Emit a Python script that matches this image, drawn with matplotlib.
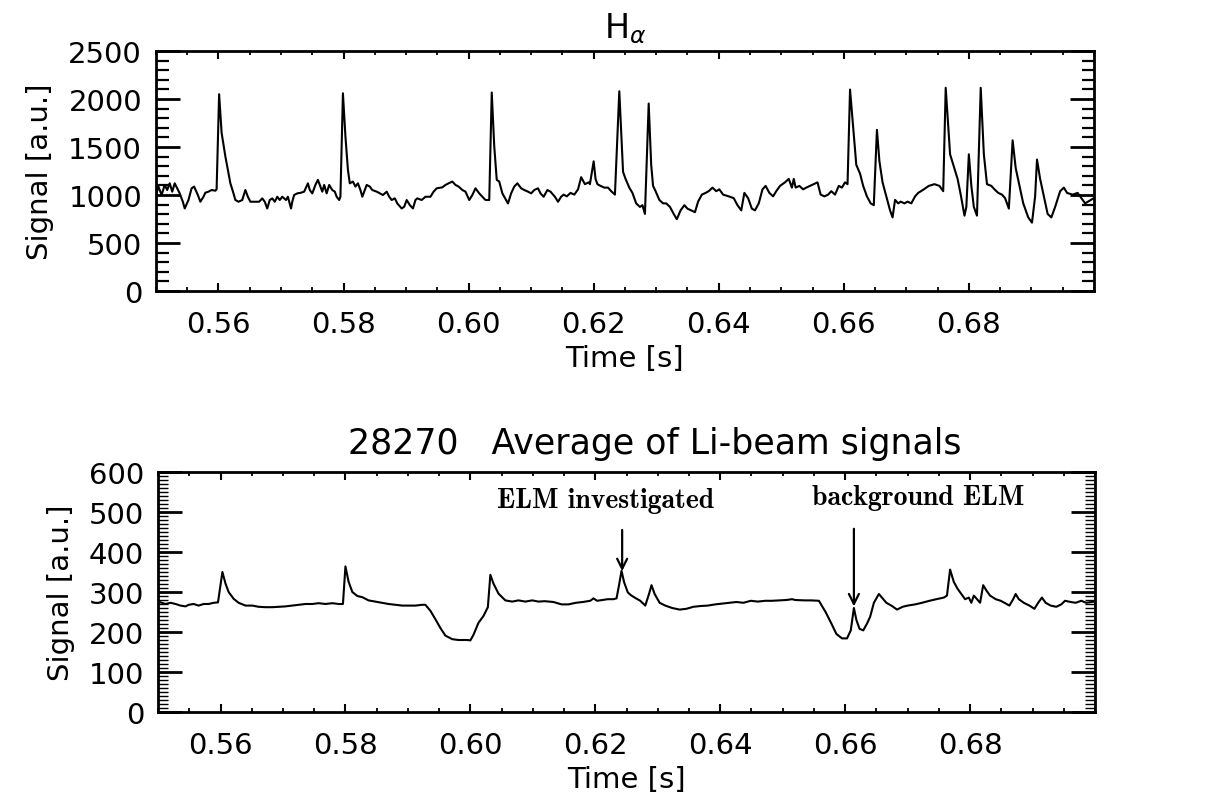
import numpy as np
import matplotlib
matplotlib.use('Agg')
import matplotlib.pyplot as plt
from matplotlib.ticker import MultipleLocator

# H-alpha signal (time [s], signal [a.u.])
ha_t = [0.5501, 0.5504, 0.5509, 0.5514, 0.5518, 0.5522, 0.5526, 0.5530, 0.5534, 0.5538,
        0.5543, 0.5546, 0.5552, 0.5557, 0.5561, 0.5567, 0.5571, 0.5576, 0.5579, 0.5584,
        0.5589, 0.5595, 0.5597, 0.5601, 0.5605, 0.5611, 0.5615, 0.5619, 0.5624, 0.5627,
        0.5632, 0.5638, 0.5643, 0.5647, 0.5651, 0.5656, 0.5665, 0.5670, 0.5674, 0.5678,
        0.5682, 0.5686, 0.5690, 0.5694, 0.5698, 0.5702, 0.5708, 0.5711, 0.5716, 0.5718,
        0.5721, 0.5726, 0.5732, 0.5737, 0.5743, 0.5746, 0.5750, 0.5755, 0.5759, 0.5761,
        0.5766, 0.5769, 0.5773, 0.5777, 0.5782, 0.5786, 0.5789, 0.5793, 0.5795, 0.5799,
        0.5803, 0.5807, 0.5810, 0.5815, 0.5819, 0.5823, 0.5827, 0.5830, 0.5834, 0.5837,
        0.5842, 0.5846, 0.5853, 0.5858, 0.5863, 0.5869, 0.5873, 0.5877, 0.5882, 0.5886,
        0.5893, 0.5897, 0.5901, 0.5906, 0.5911, 0.5915, 0.5918, 0.5925, 0.5931, 0.5939,
        0.5944, 0.5949, 0.5958, 0.5963, 0.5968, 0.5974, 0.5979, 0.5984, 0.5990, 0.5995,
        0.6001, 0.6006, 0.6011, 0.6017, 0.6022, 0.6027, 0.6033, 0.6037, 0.6041, 0.6045,
        0.6049, 0.6054, 0.6060, 0.6063, 0.6068, 0.6073, 0.6078, 0.6084, 0.6089, 0.6095,
        0.6100, 0.6105, 0.6111, 0.6115, 0.6120, 0.6126, 0.6131, 0.6138, 0.6143, 0.6148,
        0.6152, 0.6157, 0.6163, 0.6169, 0.6175, 0.6180, 0.6186, 0.6192, 0.6194, 0.6200,
        0.6203, 0.6206, 0.6211, 0.6217, 0.6223, 0.6228, 0.6234, 0.6241, 0.6247, 0.6251,
        0.6257, 0.6262, 0.6268, 0.6274, 0.6278, 0.6282, 0.6288, 0.6292, 0.6295, 0.6299,
        0.6305, 0.6311, 0.6316, 0.6322, 0.6328, 0.6333, 0.6339, 0.6345, 0.6350, 0.6356,
        0.6362, 0.6367, 0.6373, 0.6379, 0.6384, 0.6390, 0.6396, 0.6401, 0.6407, 0.6416,
        0.6424, 0.6430, 0.6436, 0.6441, 0.6447, 0.6453, 0.6458, 0.6464, 0.6470, 0.6475,
        0.6481, 0.6487, 0.6492, 0.6498, 0.6506, 0.6512, 0.6517, 0.6520, 0.6523, 0.6529,
        0.6535, 0.6540, 0.6546, 0.6552, 0.6558, 0.6563, 0.6569, 0.6575, 0.6580, 0.6586,
        0.6592, 0.6597, 0.6602, 0.6606, 0.6610, 0.6614, 0.6620, 0.6626, 0.6631, 0.6637,
        0.6643, 0.6648, 0.6653, 0.6657, 0.6662, 0.6668, 0.6674, 0.6678, 0.6682, 0.6687,
        0.6691, 0.6697, 0.6702, 0.6708, 0.6714, 0.6719, 0.6728, 0.6736, 0.6745, 0.6753,
        0.6759, 0.6763, 0.6770, 0.6776, 0.6782, 0.6787, 0.6793, 0.6796, 0.6800, 0.6804,
        0.6808, 0.6813, 0.6819, 0.6824, 0.6829, 0.6836, 0.6841, 0.6847, 0.6853, 0.6858,
        0.6864, 0.6870, 0.6875, 0.6881, 0.6887, 0.6895, 0.6901, 0.6906, 0.6909, 0.6914,
        0.6920, 0.6926, 0.6932, 0.6938, 0.6946, 0.6952, 0.6957, 0.6966, 0.6974, 0.6980,
        0.6986, 0.6998]
ha_v = [1017, 1088, 1000, 1105, 1052, 1122, 1035, 1122, 1070, 1017,
        930, 860, 948, 1070, 1088, 1000, 930, 982, 1024, 1035,
        1052, 1045, 1060, 2050, 1648, 1402, 1262, 1122, 1017, 948,
        930, 948, 1052, 982, 930, 930, 930, 965, 930, 860,
        948, 965, 930, 982, 948, 982, 948, 982, 860, 930,
        1000, 1017, 1024, 1035, 1122, 1052, 1017, 1105, 1158, 1122,
        1035, 1105, 1017, 1105, 1052, 1035, 982, 948, 982, 2060,
        1612, 1262, 1122, 1140, 1088, 1122, 1052, 982, 1052, 1105,
        1088, 1052, 1035, 1017, 1000, 1035, 982, 948, 965, 912,
        860, 878, 948, 895, 860, 948, 965, 948, 982, 982,
        1035, 1070, 1080, 1105, 1122, 1140, 1105, 1088, 1052, 1035,
        948, 1000, 1070, 1017, 982, 948, 948, 2068, 1508, 1158,
        1140, 1017, 948, 912, 1017, 1088, 1122, 1070, 1052, 1035,
        1017, 1052, 1070, 1017, 982, 1052, 1035, 982, 930, 982,
        1004, 986, 1022, 1004, 1059, 1186, 1113, 1132, 1113, 1351,
        1168, 1113, 1095, 1077, 1077, 1040, 1004, 2081, 1241, 1168,
        1077, 1022, 913, 876, 894, 803, 1953, 1314, 1095, 1040,
        949, 913, 913, 876, 803, 748, 840, 894, 858, 840,
        821, 931, 1004, 1022, 1040, 1077, 1040, 1059, 1004, 986,
        967, 894, 840, 1022, 967, 858, 840, 913, 1059, 1095,
        1022, 986, 1040, 1095, 1132, 1168, 1077, 1168, 1077, 1095,
        1059, 1077, 1095, 1113, 1132, 1004, 986, 1004, 1040, 1004,
        1095, 1077, 1132, 1113, 2099, 1789, 1314, 1223, 1095, 986,
        913, 894, 1679, 1351, 1132, 986, 840, 767, 949, 913,
        931, 913, 931, 913, 986, 1022, 1059, 1095, 1113, 1095,
        1040, 2117, 1424, 1296, 1168, 1004, 785, 876, 1424, 1095,
        876, 785, 2117, 1424, 1113, 1095, 1059, 1022, 1004, 967,
        858, 1570, 1278, 1095, 913, 767, 712, 986, 1369, 1168,
        986, 803, 767, 876, 1040, 1077, 1022, 1004, 1022, 967,
        913, 960]

# Average of Li-beam signals, shot 28270 (lower panel)
li_t = [0.5504, 0.5512, 0.5520, 0.5528, 0.5536, 0.5544, 0.5549, 0.5557, 0.5565, 0.5573,
        0.5581, 0.5589, 0.5596, 0.5603, 0.5608, 0.5613, 0.5621, 0.5629, 0.5640, 0.5651,
        0.5661, 0.5672, 0.5683, 0.5693, 0.5704, 0.5715, 0.5725, 0.5736, 0.5747, 0.5757,
        0.5768, 0.5779, 0.5789, 0.5796, 0.5800, 0.5805, 0.5811, 0.5819, 0.5827, 0.5837,
        0.5848, 0.5859, 0.5869, 0.5880, 0.5891, 0.5901, 0.5912, 0.5923, 0.5928, 0.5936,
        0.5944, 0.5952, 0.5960, 0.5971, 0.5981, 0.5995, 0.6000, 0.6005, 0.6013, 0.6021,
        0.6028, 0.6032, 0.6037, 0.6045, 0.6056, 0.6067, 0.6077, 0.6088, 0.6099, 0.6109,
        0.6119, 0.6133, 0.6146, 0.6157, 0.6169, 0.6180, 0.6192, 0.6197, 0.6203, 0.6212,
        0.6220, 0.6229, 0.6234, 0.6238, 0.6242, 0.6246, 0.6252, 0.6257, 0.6263, 0.6272,
        0.6280, 0.6286, 0.6290, 0.6295, 0.6303, 0.6312, 0.6323, 0.6335, 0.6346, 0.6357,
        0.6369, 0.6380, 0.6392, 0.6403, 0.6415, 0.6426, 0.6437, 0.6449, 0.6460, 0.6472,
        0.6483, 0.6495, 0.6506, 0.6515, 0.6520, 0.6535, 0.6546, 0.6558, 0.6563, 0.6569,
        0.6578, 0.6586, 0.6595, 0.6603, 0.6609, 0.6614, 0.6618, 0.6623, 0.6629, 0.6635,
        0.6640, 0.6646, 0.6654, 0.6659, 0.6666, 0.6675, 0.6683, 0.6692, 0.6700, 0.6712,
        0.6723, 0.6735, 0.6746, 0.6758, 0.6763, 0.6768, 0.6774, 0.6780, 0.6786, 0.6792,
        0.6798, 0.6802, 0.6806, 0.6810, 0.6816, 0.6821, 0.6826, 0.6832, 0.6841, 0.6849,
        0.6855, 0.6863, 0.6869, 0.6873, 0.6878, 0.6886, 0.6895, 0.6903, 0.6909, 0.6915,
        0.6921, 0.6929, 0.6938, 0.6946, 0.6952, 0.6961, 0.6969, 0.6978, 0.6986, 0.6999]
li_v = [274, 270, 273, 270, 266, 264, 268, 270, 266, 270,
        270, 273, 274, 350, 321, 300, 283, 273, 266, 266,
        263, 262, 262, 263, 264, 266, 268, 270, 270, 272,
        270, 272, 270, 270, 364, 326, 300, 290, 287, 279,
        276, 273, 270, 268, 266, 266, 266, 268, 268, 253,
        232, 210, 191, 182, 180, 180, 179, 193, 223, 240,
        262, 343, 321, 296, 279, 276, 279, 276, 279, 276,
        277, 275, 269, 269, 273, 275, 278, 284, 278, 280,
        282, 282, 284, 317, 353, 325, 299, 292, 286, 278,
        266, 295, 317, 295, 273, 266, 260, 256, 258, 263,
        265, 266, 269, 271, 273, 275, 273, 278, 276, 278,
        278, 279, 280, 282, 280, 279, 279, 278, 265, 249,
        221, 195, 184, 184, 204, 260, 230, 208, 204, 221,
        238, 273, 295, 286, 273, 265, 256, 263, 266, 269,
        273, 278, 282, 286, 291, 356, 325, 308, 295, 282,
        286, 273, 291, 284, 273, 317, 304, 291, 282, 278,
        273, 266, 282, 295, 282, 273, 266, 258, 273, 286,
        273, 266, 263, 269, 278, 275, 273, 278, 273, 276]

x_ticks = [0.56, 0.58, 0.60, 0.62, 0.64, 0.66, 0.68]
ha_yticks = [0, 500, 1000, 1500, 2000, 2500]
li_yticks = [0, 100, 200, 300, 400, 500, 600]

plt.rcParams['font.family'] = ['DejaVu Sans']

fig = plt.figure(figsize=(12.28, 8.04), dpi=100)
ax1 = fig.add_axes([0.1270, 0.6368, 0.7638, 0.2985])
ax2 = fig.add_axes([0.1287, 0.1132, 0.7630, 0.2985])


def style_axes(ax, yminor, ylen_minor):
    ax.set_xlim(0.55, 0.70)
    ax.set_xticks(x_ticks)
    ax.set_xticklabels(['%.2f' % t for t in x_ticks])
    ax.xaxis.set_minor_locator(MultipleLocator(0.005))
    ax.yaxis.set_minor_locator(MultipleLocator(yminor))
    for s in ax.spines.values():
        s.set_linewidth(2.0)
    ax.tick_params(axis='x', which='major', direction='in', length=6, width=1.5,
                   top=True, bottom=True, labelsize=21, pad=14)
    ax.tick_params(axis='x', which='minor', direction='in', length=3, width=1.3,
                   top=True, bottom=True)
    ax.tick_params(axis='y', which='major', direction='in', length=17, width=2.0,
                   left=True, right=True, labelsize=21, pad=10)
    ax.tick_params(axis='y', which='minor', direction='in', length=ylen_minor, width=1.6,
                   left=True, right=True)


ax1.plot(ha_t, ha_v, color='black', lw=1.5)
ax1.set_ylim(0, 2500)
ax1.set_yticks(ha_yticks)
style_axes(ax1, 100, 9)
ax1.set_title(r'H$_\alpha$', fontsize=24, pad=10)
ax1.set_xlabel('Time [s]', fontsize=21, labelpad=4)
ax1.set_ylabel('Signal [a.u.]', fontsize=21, labelpad=10)

ax2.plot(li_t, li_v, color='black', lw=1.5)
ax2.set_ylim(0, 600)
ax2.set_yticks(li_yticks)
style_axes(ax2, 10, 7)
ax2.tick_params(axis='y', which='minor', width=1.0)
ax2.set_title('28270   Average of Li-beam signals', fontsize=25, pad=14, x=0.53)
ax2.set_xlabel('Time [s]', fontsize=21, labelpad=4)
ax2.set_ylabel('Signal [a.u.]', fontsize=21, labelpad=10)

ax2.annotate('', xy=(0.6243, 345), xytext=(0.6243, 462),
             arrowprops=dict(arrowstyle='->', lw=1.6, color='black', mutation_scale=18))
ax2.text(0.6217, 530, 'ELM investigated', ha='center', va='center',
         fontsize=20, family='cmb10')
ax2.annotate('', xy=(0.6614, 257), xytext=(0.6614, 465),
             arrowprops=dict(arrowstyle='->', lw=1.6, color='black', mutation_scale=18))
ax2.text(0.6717, 537, 'background ELM', ha='center', va='center',
         fontsize=20, family='cmb10')

fig.savefig('out.png', dpi=100)
